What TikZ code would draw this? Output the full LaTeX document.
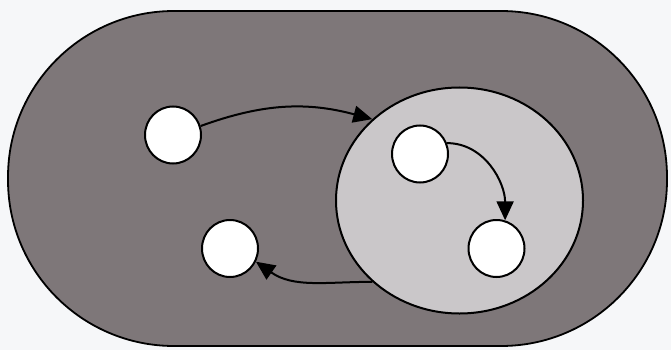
\documentclass[tikz,border=0pt]{standalone}
\usetikzlibrary{shapes.geometric,arrows.meta}
\definecolor{darkbg}{RGB}{126,119,121}
\definecolor{lightbg}{RGB}{202,199,201}
\definecolor{paper}{RGB}{246,247,249}
\tikzset{
  blob/.style={ellipse,draw=black,line width=2pt,fill=white,minimum width=56pt,minimum height=57pt,inner sep=0pt},
  conn/.style={line width=2pt,-{Triangle[length=19pt,width=17pt]}}
}
\begin{document}
\begin{tikzpicture}[x=1pt,y=-1pt]
\fill[paper] (0,0) rectangle (671,350);
\useasboundingbox (0,0) rectangle (671,350);
\draw[line width=1.8pt,fill=darkbg,rounded corners=166pt] (8,11) rectangle (667,346);
\node[ellipse,draw=black,line width=2pt,fill=lightbg,minimum width=247pt,minimum height=226pt,inner sep=0pt] (big) at (459.5,200.5) {};
\node[blob] (c1) at (173,135) {};
\node[blob] (c2) at (420,154) {};
\node[blob] (c3) at (496.5,248.5) {};
\node[blob] (c4) at (230,248.5) {};
\draw[conn] (c1.18) to[out=20,in=165] (big.137);
\draw[conn] (c2.22) to[out=0,in=90] (c3.73);
\draw[conn] (big.223) to[out=180,in=-35] (c4.-27);
\end{tikzpicture}
\end{document}
